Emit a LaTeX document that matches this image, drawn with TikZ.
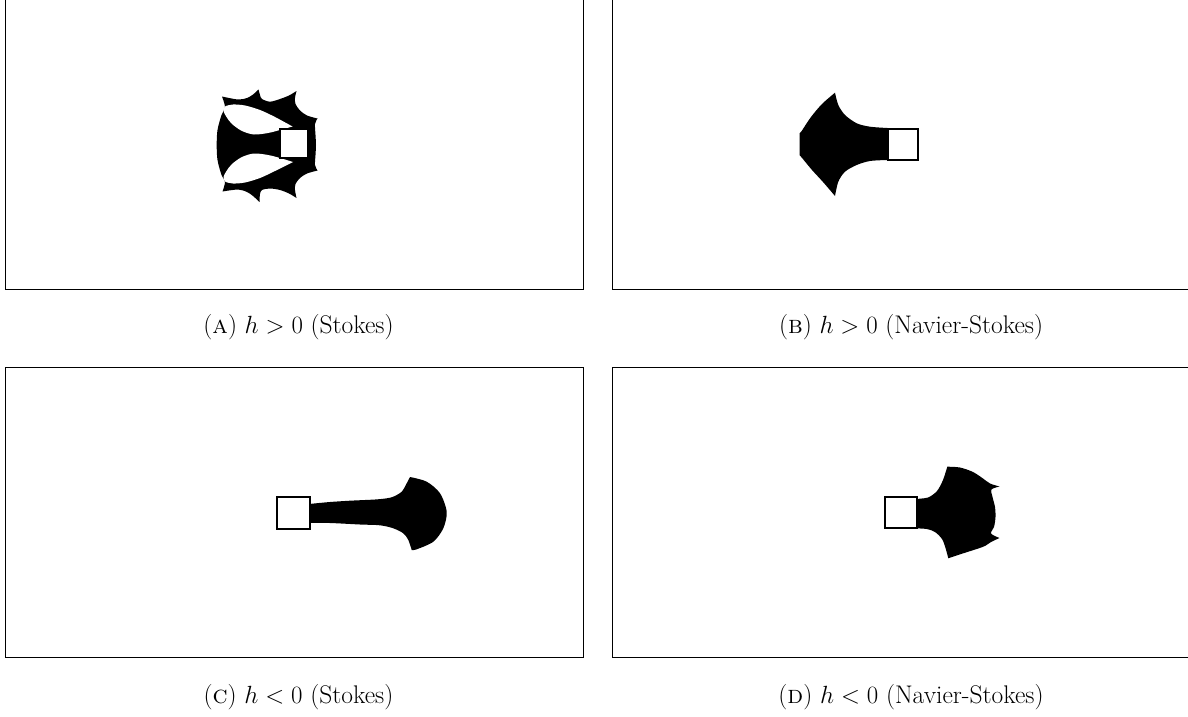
\documentclass[tikz,border=0pt]{standalone}
\begin{document}
\begin{tikzpicture}[x=1pt,y=-1pt,
  frame/.style={draw=black,line width=0.9pt},
  obst/.style={draw=black,fill=white,line width=2pt},
  blob/.style={fill=black},
  lobe/.style={fill=white},
  captext/.style={font=\fontsize{25.5}{30}\selectfont,anchor=base}]
\useasboundingbox (0,0) rectangle (1188,717);
% frames (top edge of upper row and right edge of right column lie outside the page)
\draw[frame] (5,-2) rectangle (583,289);
\draw[frame] (612.7,-2) rectangle (1190.7,289);
\draw[frame] (5,367.5) rectangle (583,657.5);
\draw[frame] (612.7,367.5) rectangle (1190.7,657.5);

% ---------- Panel A ----------
\fill[blob] plot[smooth,tension=0.5] coordinates {(222,96.5)(238,99.5)(247,98)(253,94.5)(258.5,89.5)}
 -- plot[smooth,tension=0.5] coordinates {(258.5,89.5)(260,95)(262,99)(270,101.7)(280,99)(289,95.5)(296.5,91)}
 -- plot[smooth,tension=0.5] coordinates {(296.5,91)(295,98)(295.5,104)(300,110.5)(307,115.5)(317.5,118.5)}
 -- plot[smooth,tension=0.5] coordinates {(317.5,118.5)(315,124)(315.5,135)(316,145)(315.5,155)(315,165)(317.5,170.5)}
 -- plot[smooth,tension=0.5] coordinates {(317.5,170.5)(307,173.5)(300,178)(295.5,184)(295,190)(296.5,198)}
 -- plot[smooth,tension=0.5] coordinates {(296.5,198)(289,193.5)(280,190)(270,188.5)(262,190)(260,194)(259.5,202)}
 -- plot[smooth,tension=0.5] coordinates {(259.5,202)(253,196)(247,192)(238,189.5)(222.5,191.5)}
 -- plot[smooth,tension=0.5] coordinates {(222.5,191.5)(225,182)(221.5,175)(217.5,160)(216.7,145)(217.5,130)(221.5,115)(225,107)(222,96.5)}
 -- cycle;
\fill[lobe] plot[smooth] coordinates {(292.5,126.5)(275,117)(260,110)(245,105.5)(233,104.5)(225,106.5)(223.5,111)(226.5,117)(232,124)(242,131)(254,134.5)(268,133)(280,130)(292.5,126.5)} -- cycle;
\fill[lobe] plot[smooth] coordinates {(293,162)(275,171)(260,178)(245,182.5)(233,183.5)(225,181.5)(223.5,177)(226.5,171)(232,164)(242,157)(254,153.5)(268,155)(280,158)(293,162)} -- cycle;
\node[obst,minimum width=28pt,minimum height=29pt,inner sep=0pt] (sqA) at (294,143.5) {};

% ---------- Panel B ----------
\fill[blob] plot[smooth] coordinates {(887.5,128)(870,126.7)(856.7,123.3)(845,115)(838.3,105)(835,92.7)}
 -- plot[smooth] coordinates {(835,92.7)(822,104)(811,117)(801.7,131)}
 -- (799.5,133.5) -- (799.5,155) -- (802.5,158.5)
 -- plot[smooth] coordinates {(802.5,158.5)(812,170)(823,182)(835,196)}
 -- plot[smooth] coordinates {(835,196)(838.3,181.7)(845,171.7)(856.7,165)(870,161)(887.5,160)}
 -- cycle;
\node[obst,minimum width=30pt,minimum height=31pt,inner sep=0pt] (sqB) at (902.5,144.2) {};

% ---------- Panel C ----------
\fill[blob] plot[smooth] coordinates {(309,504)(330,502)(350,500.7)(375,499.5)(386.7,498.3)(393.3,496.7)(401.7,491.7)(406.7,483.3)(410,477)}
 -- plot[smooth] coordinates {(410,477)(426.7,481.7)(440,493.3)(446.7,511.7)(443.3,528.3)(433.3,541.7)(416.7,549.3)(411.7,550)}
 -- plot[smooth] coordinates {(411.7,550)(408.3,540)(403.3,533.3)(393.3,528.3)(380,525.3)(360,524.5)(330,523)(309,523)}
 -- cycle;
\node[obst,minimum width=33pt,minimum height=32pt,inner sep=0pt] (sqC) at (293.7,513) {};

% ---------- Panel D ----------
\fill[blob] plot[smooth] coordinates {(915,499)(928,497.5)(937,491)(943,480)(947.3,466.7)}
 -- plot[smooth,tension=0.5] coordinates {(947.3,466.7)(960,467.5)(973,472)(983,478.5)(990,483.5)(999.5,486.5)}
 -- plot[smooth,tension=0.5] coordinates {(999.5,486.5)(991.5,489.5)(992.5,497)(995,507)(995.5,517)(994,527)(991,533.5)(999.5,538)}
 -- plot[smooth,tension=0.5] coordinates {(999.5,538)(991,542)(983.3,546.7)(963.3,553.3)(948.3,558.3)}
 -- plot[smooth] coordinates {(948.3,558.3)(945.5,548)(942,539)(935,532)(926.7,529)(915,528.3)}
 -- cycle;
\node[obst,minimum width=31.5pt,minimum height=31.5pt,inner sep=0pt] (sqD) at (900.8,512.6) {};

% ---------- captions ----------
\node[captext] (capA) at (298.5,333) {(\textsc{a}) $h>0$ (Stokes)};
\node[captext] (capB) at (911,333) {(\textsc{b}) $h>0$ (Navier-Stokes)};
\node[captext] (capC) at (298.5,703) {(\textsc{c}) $h<0$ (Stokes)};
\node[captext] (capD) at (911,703) {(\textsc{d}) $h<0$ (Navier-Stokes)};
\end{tikzpicture}
\end{document}
